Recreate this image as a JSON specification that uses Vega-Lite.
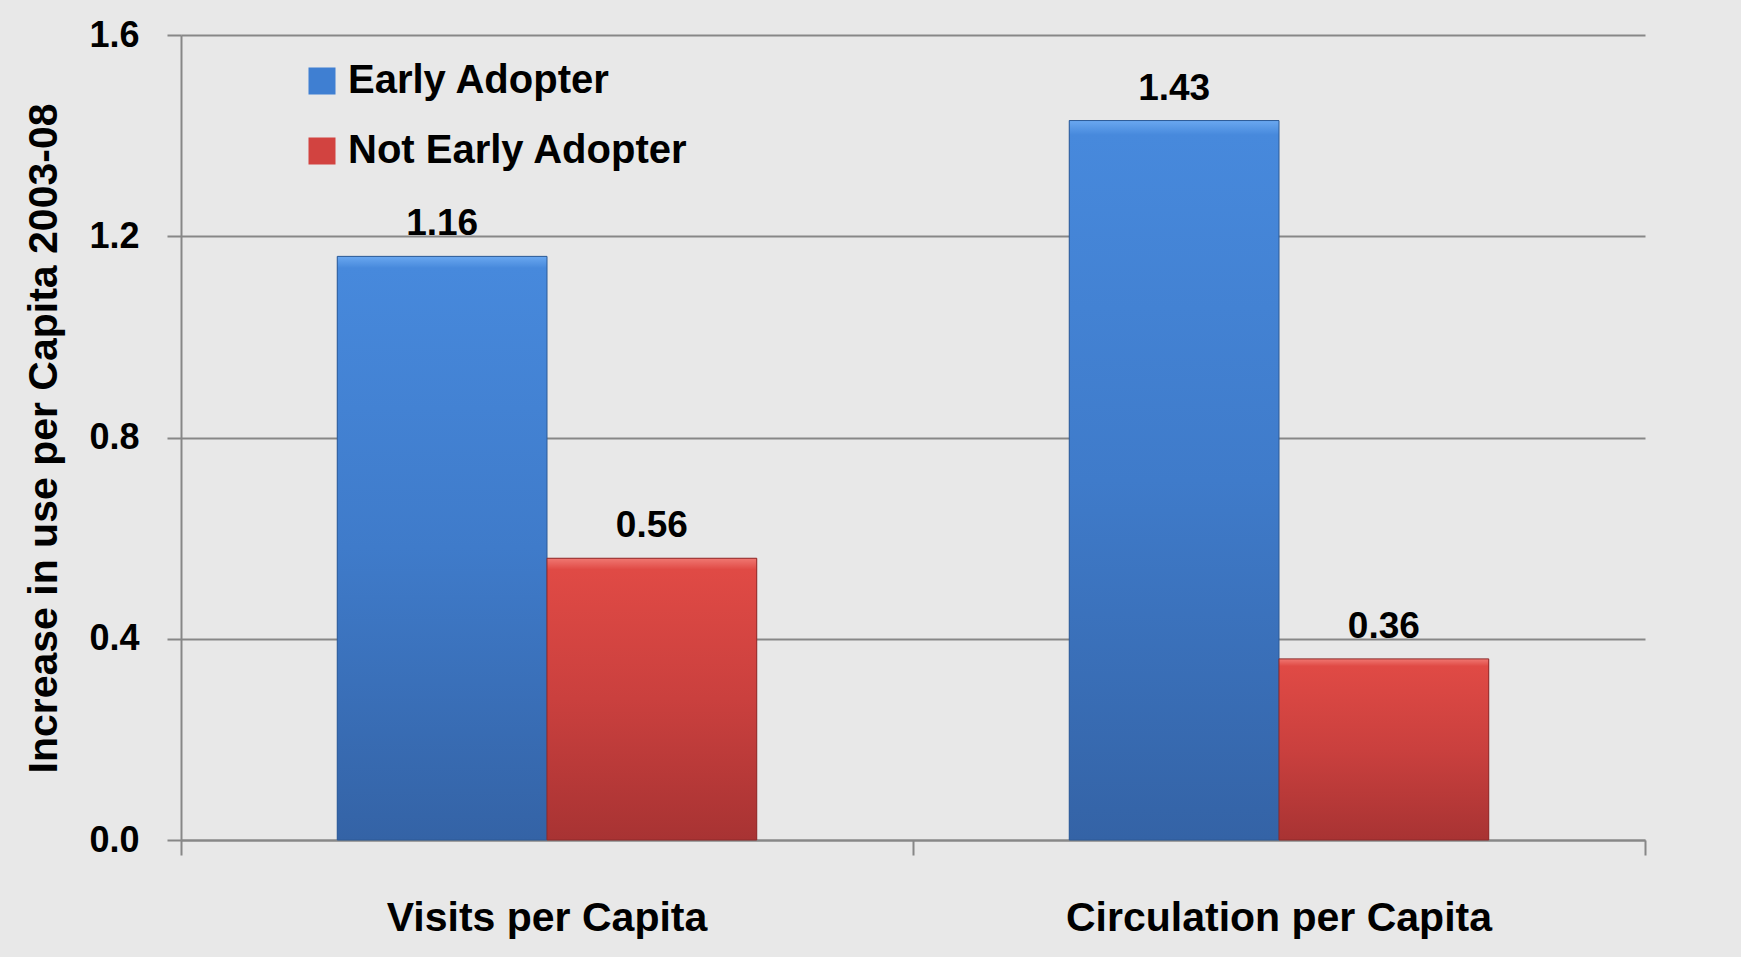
{
  "$schema": "https://vega.github.io/schema/vega-lite/v6.json",
  "width": 1464,
  "height": 805,
  "autosize": {"type": "none"},
  "padding": {"left": 181, "top": 35, "right": 96, "bottom": 117},
  "background": "#e8e8e8",
  "config": {
    "view": {"stroke": null},
    "font": "Liberation Sans"
  },
  "data": {
    "values": [
      {"measure": "Visits per Capita", "series": "Early Adopter", "value": 1.16},
      {"measure": "Visits per Capita", "series": "Not Early Adopter", "value": 0.56},
      {"measure": "Circulation per Capita", "series": "Early Adopter", "value": 1.43},
      {"measure": "Circulation per Capita", "series": "Not Early Adopter", "value": 0.36}
    ]
  },
  "encoding": {
    "x": {
      "field": "measure",
      "type": "nominal",
      "scale": {"domain": ["Visits per Capita", "Circulation per Capita"], "paddingInner": 0, "paddingOuter": 0},
      "axis": {
        "title": null,
        "labelAngle": 0,
        "bandPosition": 1,
        "tickExtra": true,
        "tickSize": 15,
        "tickWidth": 2,
        "tickColor": "#878787",
        "domainColor": "#878787",
        "domainWidth": 2,
        "labelFontSize": 41,
        "labelFontWeight": "bold",
        "labelColor": "#000000",
        "labelPadding": 43,
        "labelLimit": 1000,
        "grid": false
      }
    },
    "xOffset": {
      "field": "series",
      "type": "nominal",
      "scale": {"domain": ["Early Adopter", "Not Early Adopter"], "paddingInner": 0, "paddingOuter": 0.745}
    },
    "y": {
      "field": "value",
      "type": "quantitative",
      "scale": {"domain": [0, 1.6], "nice": false},
      "axis": {
        "values": [0, 0.4, 0.8, 1.2, 1.6],
        "format": ".1f",
        "title": "Increase in use per Capita 2003-08",
        "titleX": -137,
        "titleY": 403,
        "titleAngle": 270,
        "titleAlign": "center",
        "titleBaseline": "middle",
        "titleFontSize": 41,
        "titleFontWeight": "bold",
        "titleColor": "#000000",
        "titleLimit": 1000,
        "labelFontSize": 36,
        "labelFontWeight": "bold",
        "labelColor": "#000000",
        "labelPadding": 28,
        "tickSize": 14,
        "tickWidth": 2,
        "tickColor": "#878787",
        "domainColor": "#878787",
        "domainWidth": 2,
        "grid": true,
        "gridColor": "#878787",
        "gridWidth": 2
      }
    }
  },
  "layer": [
    {
      "mark": {"type": "bar"},
      "encoding": {
        "color": {
          "field": "series",
          "type": "nominal",
          "scale": {"domain": ["Early Adopter", "Not Early Adopter"], "range": ["#3f7fd2", "#d24340"]},
          "legend": {
            "orient": "none",
            "legendX": 121,
            "legendY": 26,
            "title": null,
            "symbolType": "square",
            "symbolSize": 729,
            "symbolStrokeWidth": 0,
            "symbolOpacity": 1,
            "labelFontSize": 40,
            "labelFontWeight": "bold",
            "labelColor": "#000000",
            "labelOffset": 6,
            "labelLimit": 1000,
            "rowPadding": 30,
            "padding": 0
          }
        }
      }
    },
    {
      "transform": [{"filter": "datum.series === 'Early Adopter'"}],
      "mark": {
        "type": "bar",
        "fill": {
          "gradient": "linear",
          "x1": 0, "y1": 0, "x2": 0, "y2": 1,
          "stops": [
            {"offset": 0, "color": "#6aa8f0"},
            {"offset": 0.02, "color": "#4789dc"},
            {"offset": 0.5, "color": "#3f7bca"},
            {"offset": 1, "color": "#3463a6"}
          ]
        },
        "stroke": "#2d5a96",
        "strokeWidth": 1
      }
    },
    {
      "transform": [{"filter": "datum.series === 'Not Early Adopter'"}],
      "mark": {
        "type": "bar",
        "fill": {
          "gradient": "linear",
          "x1": 0, "y1": 0, "x2": 0, "y2": 1,
          "stops": [
            {"offset": 0, "color": "#f07872"},
            {"offset": 0.04, "color": "#e04a45"},
            {"offset": 0.5, "color": "#ca403e"},
            {"offset": 1, "color": "#a83333"}
          ]
        },
        "stroke": "#8e2a2a",
        "strokeWidth": 1
      }
    },
    {
      "mark": {"type": "text", "dy": -21, "fontSize": 37, "fontWeight": "bold", "baseline": "alphabetic", "color": "#000000"},
      "encoding": {"text": {"field": "value", "type": "quantitative", "format": ".2f"}}
    }
  ]
}
